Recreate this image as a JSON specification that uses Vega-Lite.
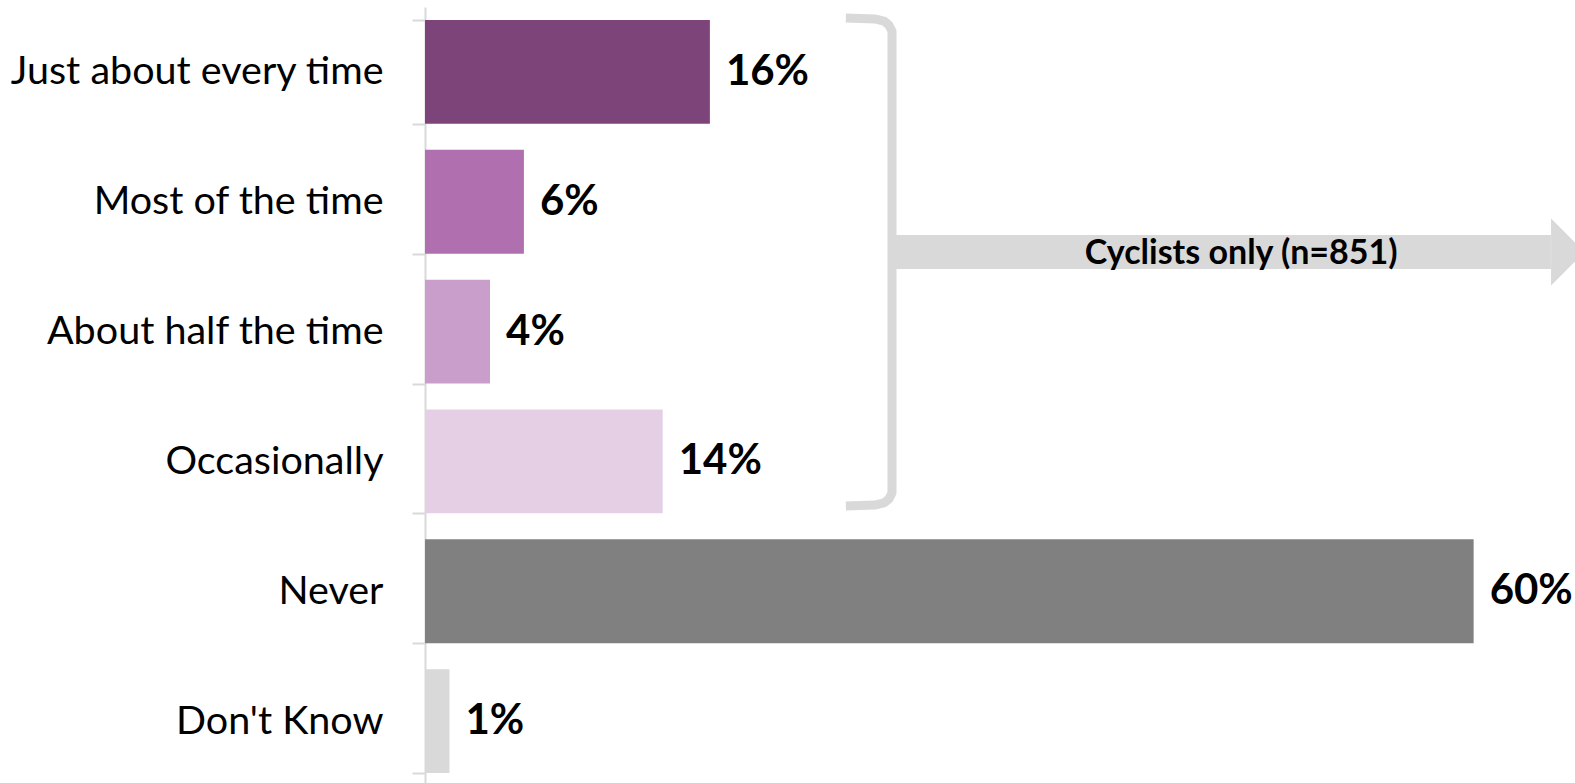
{
  "$schema": "https://vega.github.io/schema/vega-lite/v6.json",
  "autosize": "none",
  "padding": {"left": 425, "top": 7, "right": 0, "bottom": 0},
  "width": 1150,
  "height": 779,
  "background": "white",
  "config": {"view": {"stroke": null}, "font": "Lato"},
  "datasets": {
    "bars": [
      {"cat": "Just about every time", "value": 16.3, "label": "16%"},
      {"cat": "Most of the time", "value": 5.66, "label": "6%"},
      {"cat": "About half the time", "value": 3.72, "label": "4%"},
      {"cat": "Occasionally", "value": 13.6, "label": "14%"},
      {"cat": "Never", "value": 60.0, "label": "60%"},
      {"cat": "Don't Know", "value": 1.4, "label": "1%"}
    ],
    "bracket": [
      {"i": 1, "x": 24.08, "y": 0.085},
      {"i": 2, "x": 25.74, "y": 0.092},
      {"i": 3, "x": 26.26, "y": 0.108},
      {"i": 4, "x": 26.54, "y": 0.139},
      {"i": 5, "x": 26.72, "y": 0.185},
      {"i": 6, "x": 26.72, "y": 3.743},
      {"i": 7, "x": 26.54, "y": 3.790},
      {"i": 8, "x": 26.26, "y": 3.820},
      {"i": 9, "x": 25.74, "y": 3.836},
      {"i": 10, "x": 24.08, "y": 3.843}
    ],
    "arrow": [
      {"x": 26.72, "x2": 64.42, "head": 65.39, "y": 1.887, "ty": 1.9, "textx": 46.7, "text": "Cyclists only (n=851)"}
    ]
  },
  "resolve": {"scale": {"y": "independent"}, "axis": {"y": "independent"}},
  "layer": [
    {
      "data": {"name": "bars"},
      "mark": {"type": "bar"},
      "encoding": {
        "y": {
          "field": "cat", "type": "nominal", "sort": null,
          "scale": {"paddingInner": 0.2, "paddingOuter": 0.1},
          "axis": {
            "title": null, "domainColor": "#d9d9d9", "domainWidth": 2,
            "tickColor": "#d9d9d9", "tickWidth": 2, "tickSize": 13, "tickBand": "extent",
            "labelFontSize": 39.5, "labelColor": "#000000", "labelFont": "Lato",
            "labelPadding": 29, "labelLimit": 600
          }
        },
        "x": {"field": "value", "type": "quantitative", "scale": {"domain": [0, 65.8], "nice": false}, "axis": null},
        "color": {
          "field": "cat", "type": "nominal", "legend": null,
          "scale": {
            "domain": ["Just about every time", "Most of the time", "About half the time", "Occasionally", "Never", "Don't Know"],
            "range": ["#7D4479", "#B070B0", "#CA9ECB", "#E5CFE5", "#808080", "#D9D9D9"]
          }
        }
      }
    },
    {
      "data": {"name": "bars"},
      "mark": {"type": "text", "align": "left", "baseline": "middle", "dx": 16, "fontSize": 42, "fontWeight": "bold", "color": "#000000", "font": "Lato"},
      "encoding": {
        "y": {"field": "cat", "type": "nominal", "sort": null, "scale": {"paddingInner": 0.2, "paddingOuter": 0.1}, "axis": null},
        "x": {"field": "value", "type": "quantitative", "scale": {"domain": [0, 65.8], "nice": false}},
        "text": {"field": "label"}
      }
    },
    {
      "data": {"name": "bracket"},
      "mark": {"type": "line", "color": "#d9d9d9", "strokeWidth": 9, "strokeCap": "butt", "strokeJoin": "round", "clip": false},
      "encoding": {
        "x": {"field": "x", "type": "quantitative", "scale": {"domain": [0, 65.8], "nice": false}},
        "y": {"field": "y", "type": "quantitative", "scale": {"domain": [0, 6], "reverse": true, "nice": false, "zero": false}, "axis": null},
        "order": {"field": "i"}
      }
    },
    {
      "data": {"name": "arrow"},
      "mark": {"type": "rule", "color": "#d9d9d9", "strokeWidth": 34, "strokeCap": "butt"},
      "encoding": {
        "x": {"field": "x", "type": "quantitative", "scale": {"domain": [0, 65.8], "nice": false}},
        "x2": {"field": "x2"},
        "y": {"field": "y", "type": "quantitative", "scale": {"domain": [0, 6], "reverse": true, "nice": false, "zero": false}, "axis": null}
      }
    },
    {
      "data": {"name": "arrow"},
      "mark": {"type": "point", "shape": "M -0.5 -1 L 0.5 0 L -0.5 1 Z", "size": 4489, "filled": true, "color": "#d9d9d9", "opacity": 1, "strokeWidth": 0},
      "encoding": {
        "x": {"field": "head", "type": "quantitative", "scale": {"domain": [0, 65.8], "nice": false}},
        "y": {"field": "y", "type": "quantitative", "scale": {"domain": [0, 6], "reverse": true, "nice": false, "zero": false}, "axis": null}
      }
    },
    {
      "data": {"name": "arrow"},
      "mark": {"type": "text", "align": "center", "baseline": "middle", "fontSize": 34, "fontWeight": "bold", "color": "#000000", "font": "Lato"},
      "encoding": {
        "x": {"field": "textx", "type": "quantitative", "scale": {"domain": [0, 65.8], "nice": false}},
        "y": {"field": "ty", "type": "quantitative", "scale": {"domain": [0, 6], "reverse": true, "nice": false, "zero": false}, "axis": null},
        "text": {"field": "text"}
      }
    }
  ]
}
